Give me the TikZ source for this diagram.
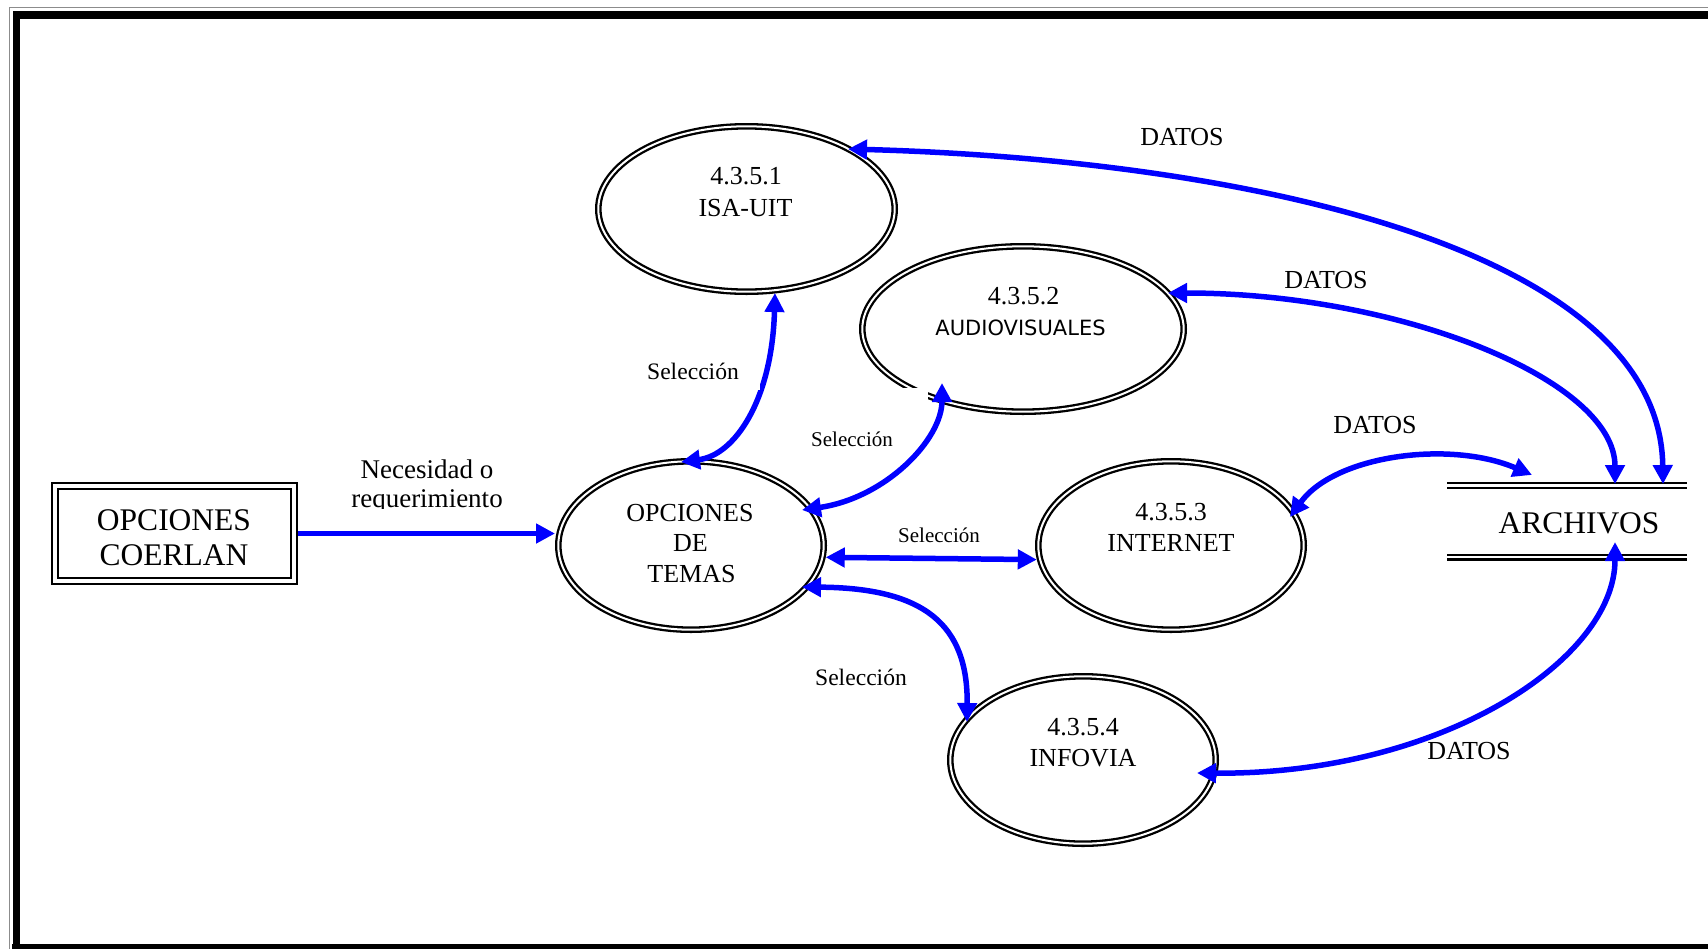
\documentclass[tikz,border=0pt]{standalone}
\usepackage{fontspec}
\setmainfont{Liberation Serif}
\newfontfamily\comicfont{DejaVu Sans}
\usetikzlibrary{arrows.meta,shapes.geometric}
\newcommand\fEll{\fontsize{26}{30}\selectfont}
\newcommand\fBox{\fontsize{31.5}{36}\selectfont}
\newcommand\fNec{\fontsize{27}{31}\selectfont}
\newcommand\fDat{\fontsize{26}{30}\selectfont}
\newcommand\fSelB{\fontsize{23.6}{27}\selectfont}
\newcommand\fSelS{\fontsize{21}{25}\selectfont}
\newcommand\fAud{\comicfont\fontsize{21}{25}\selectfont}
\begin{document}
\begin{tikzpicture}[x=1pt,y=-1pt,
  proc/.style={ellipse, draw=black, double=white, double distance=2pt, line width=2.3pt, inner sep=0pt, outer sep=3.3pt},
  extent/.style={rectangle, draw=black, double=white, double distance=3.3pt, line width=2.4pt, inner sep=0pt, outer sep=4pt},
  storeline/.style={draw=black, double=white, double distance=2.3pt, line width=2.6pt},
  flow/.style={draw=blue, line width=5.5pt, >={Triangle[length=19pt,width=19pt]}},
  lbl/.style={anchor=base, inner sep=0pt, outer sep=0pt}
]
\path[use as bounding box] (0,0) rectangle (1708,948);
\clip (0,0) rectangle (1708,948);

% frame
\draw[black!45, line width=1.5pt] (9.3,960) -- (9.3,7.7) -- (1720,7.7);
\draw[black, line width=7.8pt, line join=miter] (16.5,960) -- (16.5,15.3) -- (1720,15.3);
\draw[black, line width=8pt] (12,947.5) -- (1720,947.5);

% processes
\node[proc, minimum width=296.4pt, minimum height=165.4pt] (isa) at (746.5,209) {};
\node[proc, minimum width=321.4pt, minimum height=165.4pt] (aud) at (1023,329) {};
\node[proc, minimum width=265.4pt, minimum height=168.4pt] (tem) at (691,545.5) {};
\node[proc, minimum width=265.4pt, minimum height=168.4pt] (int) at (1171,545.5) {};
\node[proc, minimum width=265.4pt, minimum height=167.4pt] (inf) at (1083,760) {};

% external entity
\node[extent, minimum width=239pt, minimum height=95pt] (coer) at (174.5,533.5) {};

% data store
\node[inner sep=0pt, outer sep=0pt, minimum width=240pt, minimum height=71.7pt] (arch) at (1567,521.4) {};
\draw[storeline] (arch.north west) -- (arch.north east);
\draw[storeline] (arch.south west) -- (arch.south east);

% gap in the AUDIOVISUALES ellipse
\fill[white] (895,387.5) rectangle (928,420);

% texts in shapes
\node[lbl, font=\fEll] (isaN) at (746,184) {4.3.5.1};
\node[lbl, font=\fEll] (isaT) at (745.5,216) {ISA-UIT};
\node[lbl, font=\fEll] (audN) at (1023.5,304) {4.3.5.2};
\node[lbl, font=\fAud] (audT) at (1020.5,335) {AUDIOVISUALES};
\node[lbl, font=\fEll] (temA) at (690,521) {OPCIONES};
\node[lbl, font=\fEll] (temB) at (690.5,551) {DE};
\node[lbl, font=\fEll] (temC) at (691.5,582) {TEMAS};
\node[lbl, font=\fEll] (intN) at (1171,520) {4.3.5.3};
\node[lbl, font=\fEll] (intT) at (1171,551.7) {INTERNET};
\node[lbl, font=\fEll] (infN) at (1083,735) {4.3.5.4};
\node[lbl, font=\fEll] (infT) at (1083,766) {INFOVIA};
\node[lbl, font=\fBox] (coerA) at (174,530) {OPCIONES};
\node[lbl, font=\fBox] (coerB) at (174,565) {COERLAN};
\node[lbl, font=\fBox] (archT) at (1579,533) {ARCHIVOS};

% connectors
\draw[flow,->] (coer.east) -- (coer.east -| tem.west);
\draw[flow,<->] ([shift={(-10,-83.5)}]tem.center) .. controls +(54,-7) and +(-3,107) .. ([shift={(28.5,84)}]isa.center);
\fill[white] (640,362) rectangle (760,390);
\draw[flow,<->] ([shift={(111,-35.5)}]tem.center) .. controls +(83,-12) and +(0,57) .. ([shift={(-81,54)}]aud.center);
\draw[flow,<->] (tem.-5.3) -- (int.-174.7);
\draw[flow,<->] ([shift={(111,41.5)}]tem.center) .. controls +(123,1) and +(1,-97) .. ([shift={(-116,-38)}]inf.center);
\draw[flow,<->] ([shift={(101.5,-60)}]isa.center) .. controls +(402,11) and +(-3,-234) .. ([shift={(96,-1.5)}]arch.north);
\draw[flow,<->] ([shift={(145,-36)}]aud.center) .. controls +(232,0) and +(0,-104) .. ([shift={(48,-1.5)}]arch.north);
\draw[flow,<->] ([shift={(119,-28.5)}]int.center) .. controls +(45,-62) and +(-82,-35) .. ([shift={(-35,-10.6)}]arch.north);
\draw[flow,<->] ([shift={(114,13)}]inf.center) .. controls +(243,2) and +(0,118) .. ([shift={(48,-15.2)}]arch.south);

% flow labels
\node[lbl, font=\fNec] (necA) at (427,478) {Necesidad o};
\begin{scope}
\clip (300,485) rectangle (560,508.8);
\node[lbl, font=\fNec] (necB) at (427,507.5) {requerimiento};
\end{scope}
\node[lbl, font=\fSelB] (sel1) at (693,379) {Selección};
\node[lbl, font=\fSelS] (sel2) at (852,446) {Selección};
\node[lbl, font=\fSelS] (sel3) at (939,542) {Selección};
\node[lbl, font=\fSelB] (sel4) at (861,685) {Selección};
\node[lbl, font=\fDat] (dat1) at (1182,145) {DATOS};
\node[lbl, font=\fDat] (dat2) at (1326,288) {DATOS};
\node[lbl, font=\fDat] (dat3) at (1375,433) {DATOS};
\node[lbl, font=\fDat] (dat4) at (1469,759) {DATOS};
\end{tikzpicture}
\end{document}
